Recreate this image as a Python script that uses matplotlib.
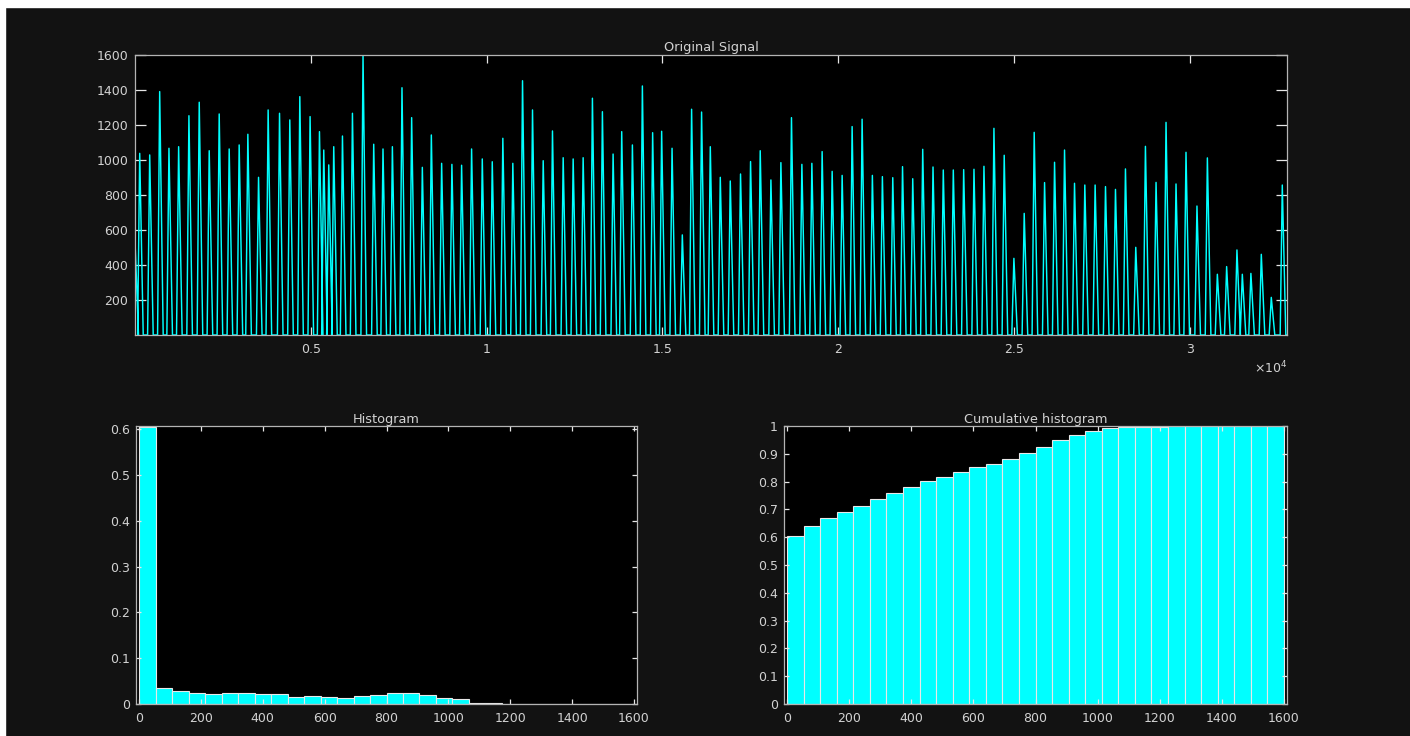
import numpy as np
import matplotlib.pyplot as plt
from matplotlib.patches import Rectangle

plt.rcParams['font.family'] = ['DejaVu Sans']
plt.rcParams['font.size'] = 9

# peaks of the recorded signal: sample index and amplitude
peak_pos = [
    0, 134, 418, 702, 966, 1241, 1534, 1827, 2111, 2395, 2679, 2963, 3210, 3514,
    3787, 4111, 4403, 4688, 4980, 5247, 5369, 5511, 5653, 5901, 6185, 6486,
    6790, 7054, 7321, 7594, 7869, 8173, 8429, 8722, 9014, 9290, 9574, 9878,
    10162, 10463, 10747, 11023, 11307, 11611, 11875, 12179, 12463, 12747,
    13011, 13295, 13599, 13844, 14148, 14432, 14724, 14980, 15276, 15568,
    15832, 16116, 16364, 16648, 16932, 17224, 17509, 17784, 18088, 18372,
    18673, 18969, 19253, 19545, 19830, 20114, 20398, 20682, 20974, 21259,
    21554, 21832, 22122, 22406, 22699, 22991, 23276, 23571, 23864, 24148,
    24432, 24724, 25000, 25293, 25577, 25872, 26156, 26440, 26724, 27017,
    27310, 27605, 27889, 28173, 28466, 28741, 29043, 29327, 29611, 29895,
    30207, 30503, 30787, 31051, 31344, 31497, 31741, 32037, 32321, 32634,
]
peak_val = [
    540, 1038, 1029, 1391, 1067, 1076, 1253, 1330, 1053, 1263, 1063, 1086, 1147, 901,
    1286, 1267, 1229, 1362, 1248, 1162, 1057, 972, 1076, 1137, 1267, 1600,
    1090, 1063, 1076, 1413, 1242, 958, 1143, 981, 975, 970, 1063, 1006,
    990, 1124, 981, 1453, 1286, 996, 1166, 1013, 1006, 1013,
    1353, 1276, 1034, 1162, 1086, 1423, 1156, 1164, 1067, 572,
    1290, 1274, 1076, 901, 880, 920, 991, 1053, 886, 985,
    1242, 975, 981, 1048, 935, 912, 1191, 1233, 912, 905,
    899, 962, 893, 1061, 960, 943, 943, 945, 947, 964,
    1181, 1027, 438, 695, 1158, 871, 987, 1057, 867, 857,
    857, 848, 832, 949, 501, 1078, 872, 1215, 863, 1044,
    737, 1012, 347, 391, 486, 347, 352, 461, 215, 857,
]
n_samples = 32768

# normalised histogram, 30 bins over 0..1600
hist_frac = [
    0.605, 0.035, 0.029, 0.023, 0.021, 0.023, 0.023, 0.022, 0.021, 0.016,
    0.017, 0.016, 0.014, 0.018, 0.020, 0.023, 0.023, 0.019, 0.014, 0.010,
    0.003, 0.0015, 0.001, 0.0008, 0.0005, 0.0004, 0.0003, 0.0003, 0.0002, 0.0002,
]
bin_edges = np.linspace(0, 1600, len(hist_frac) + 1)
cum_frac = np.cumsum(hist_frac)

# each pulse is drawn as a rising and a falling edge back to baseline
rise, fall = 60, 100
sx, sy = [], []
for p, v in zip(peak_pos, peak_val):
    if p > 0:
        sx.append(p - rise)
        sy.append(0)
    sx += [p, p + fall]
    sy += [v, 0]
sx.append(n_samples)
sy.append(0)

W, H = 1410, 736
fig = plt.figure(figsize=(W / 100, H / 100), dpi=100, facecolor='#121212')
fig.patches.append(Rectangle((0, 1 - 7 / H), 1, 7 / H, transform=fig.transFigure,
                             color='white', zorder=-1))
fig.patches.append(Rectangle((0, 0), 5 / W, 1, transform=fig.transFigure,
                             color='white', zorder=-1))


def px_axes(l, t, r, b):
    return fig.add_axes([l / W, 1 - b / H, (r - l) / W, (b - t) / H])


def style(ax, ylen, xlen, xpad, ypad):
    ax.set_facecolor('black')
    for s in ax.spines.values():
        s.set_color('#b4b4b4')
        s.set_linewidth(0.9)
    ax.tick_params(direction='in', colors='#e6e6e6', labelcolor='#d2d2d2',
                   top=True, right=True, width=0.9)
    ax.tick_params(axis='y', length=ylen, pad=ypad)
    ax.tick_params(axis='x', length=xlen, pad=xpad)


title_kw = dict(color='#d2d2d2', fontsize=9.3)

# original signal
ax1 = px_axes(135, 55, 1287, 335)
ax1.plot(sx, sy, color='#00ffff', lw=1.05)
ax1.set_xlim(0, n_samples)
ax1.set_ylim(0, 1600)
ax1.set_yticks(np.arange(200, 1601, 200))
ax1.set_xticks([5000, 10000, 15000, 20000, 25000, 30000])
ax1.set_xticklabels(['0.5', '1', '1.5', '2', '2.5', '3'])
style(ax1, 8, 6, 6, 5)
ax1.set_title('Original Signal', pad=3, **title_kw)
fig.text(1287 / W, 1 - 368 / H, r'$\times\mathregular{10^{4}}$',
         color='#d2d2d2', ha='right', va='center')

# histogram
ax2 = px_axes(136, 426, 637, 704)
ax2.bar(bin_edges[:-1], hist_frac, width=np.diff(bin_edges), align='edge',
        color='#00ffff', edgecolor='#e8e8e8', linewidth=0.8)
ax2.set_xlim(-10, 1610)
ax2.set_ylim(0, 0.607)
ax2.set_xticks(np.arange(0, 1601, 200))
ax2.set_yticks(np.arange(0, 0.61, 0.1))
ax2.set_yticklabels(['0', '0.1', '0.2', '0.3', '0.4', '0.5', '0.6'])
style(ax2, 3.6, 3.6, 6, 4.5)
ax2.set_title('Histogram', pad=2, **title_kw)

# cumulative histogram
ax3 = px_axes(784, 426, 1287, 704)
ax3.bar(bin_edges[:-1], cum_frac, width=np.diff(bin_edges), align='edge',
        color='#00ffff', edgecolor='#e8e8e8', linewidth=0.8)
ax3.set_xlim(-10, 1610)
ax3.set_ylim(0, 1.0)
ax3.set_xticks(np.arange(0, 1601, 200))
ax3.set_yticks(np.arange(0, 1.01, 0.1))
ax3.set_yticklabels(['0', '0.1', '0.2', '0.3', '0.4', '0.5', '0.6', '0.7',
                     '0.8', '0.9', '1'])
style(ax3, 3.6, 3.6, 6, 4.5)
ax3.set_title('Cumulative histogram', pad=2, **title_kw)

fig.savefig('out.png', dpi=100, facecolor=fig.get_facecolor())
